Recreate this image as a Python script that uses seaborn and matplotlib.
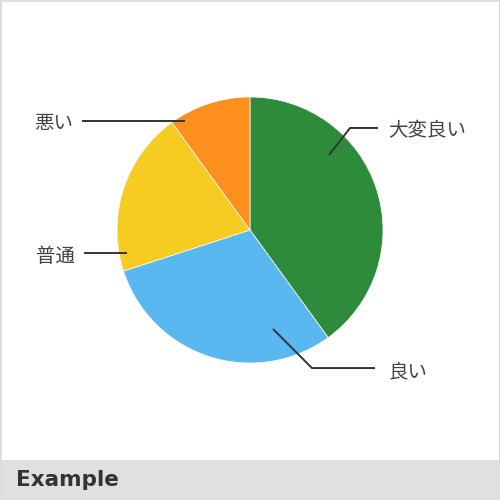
import matplotlib
matplotlib.use("Agg")
import matplotlib.pyplot as plt
import seaborn as sns
from matplotlib.patches import Rectangle

# data
labels = ["大変良い", "良い", "普通", "悪い"]
values = [40, 30, 20, 10]
colors = ["#2E8B3B", "#5AB8F0", "#F6CB22", "#FD8F1C"]

# leader lines (anchor, elbow, end) and label placement, in pie radius units
leaders = [
    [(0.594, 0.564), (0.752, 0.767), (0.962, 0.767)],
    [(0.173, -0.744), (0.466, -1.038), (0.940, -1.038)],
    [(-0.925, -0.173), (-1.248, -0.173)],
    [(-0.489, 0.820), (-1.263, 0.820)],
]
label_pos = [(1.038, 0.745, "left"), (1.038, -1.068, "left"),
             (-1.316, -0.203, "right"), (-1.331, 0.797, "right")]

sns.set_theme(style="white")
plt.rcParams["font.family"] = ["Noto Sans CJK JP", "DejaVu Sans"]

fig = plt.figure(figsize=(5, 5), dpi=100)
ax = fig.add_axes([0, 0, 1, 1])
ax.pie(values, colors=colors, startangle=90, counterclock=False, radius=1,
       wedgeprops=dict(edgecolor="white", linewidth=0.5))

r = 133
ax.set_xlim(-250 / r, 250 / r)
ax.set_ylim(-270 / r, 230 / r)
ax.set_aspect("equal")
ax.axis("off")

for pts in leaders:
    xs = [p[0] for p in pts]
    ys = [p[1] for p in pts]
    ax.plot(xs, ys, color="#333333", lw=1.4, solid_capstyle="butt")

for lab, (x, y, ha) in zip(labels, label_pos):
    ax.text(x, y, lab, ha=ha, va="center", fontsize=14, color="#444444")

# footer band and border
fig.patches.append(Rectangle((0, 0), 1, 40 / 500, transform=fig.transFigure,
                             facecolor="#E0E0E0", edgecolor="none", zorder=0))
fig.patches.append(Rectangle((0.001, 0.001), 0.998, 0.998, transform=fig.transFigure,
                             facecolor="none", edgecolor="#DDDDDD", lw=1.5, zorder=1))
fig.text(16 / 500, 20 / 500, "Example", ha="left", va="center",
         fontsize=15.5, fontweight="bold", color="#333333", family="DejaVu Sans")

fig.savefig("out.png", dpi=100)
